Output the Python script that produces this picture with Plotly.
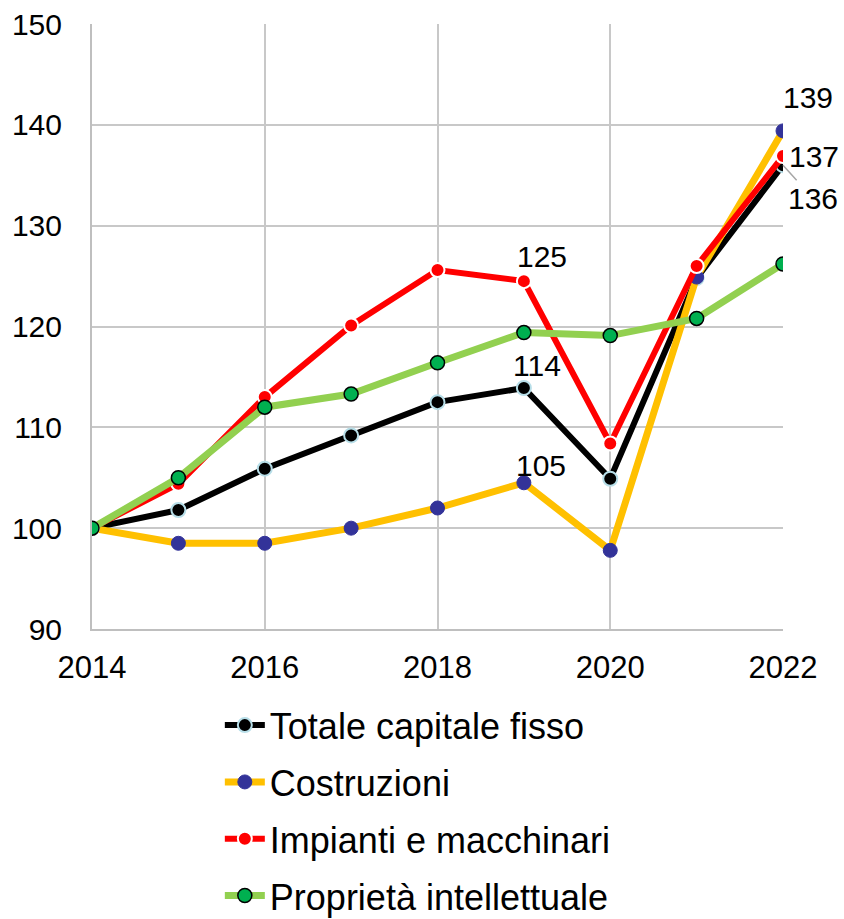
import plotly.graph_objects as go

years = [2014, 2015, 2016, 2017, 2018, 2019, 2020, 2021, 2022]
totale = [100, 101.8, 105.9, 109.2, 112.5, 113.9, 104.9, 124.8, 136.0]
costruzioni = [100, 98.5, 98.5, 100.0, 102.0, 104.5, 97.8, 124.9, 139.4]
impianti = [100, 104.4, 113.0, 120.1, 125.6, 124.5, 108.4, 126.0, 136.9]
proprieta = [100, 105.0, 112.0, 113.3, 116.4, 119.4, 119.1, 120.8, 126.2]

names = ["Totale capitale fisso", "Costruzioni", "Impianti e macchinari", "Proprietà intellettuale"]
x_ticks = [2014, 2016, 2018, 2020, 2022]
y_ticks = [90, 100, 110, 120, 130, 140, 150]

FONT = "Liberation Sans, Arial, sans-serif"

fig = go.Figure()
specs = [
    (totale, names[0], "#000000", 6, "#000000", "#b7dee8", 2),
    (costruzioni, names[1], "#FFC000", 7, "#333399", "#333399", 1),
    (impianti, names[2], "#FF0000", 6, "#FF0000", "#ffffff", 2),
    (proprieta, names[3], "#92D050", 7, "#00B050", "#000000", 1.5),
]
for i, (vals, name, lc, lw, mc, mlc, mlw) in enumerate(specs):
    fig.add_trace(go.Scatter(
        x=years, y=vals, name=name, mode="lines+markers",
        line=dict(color=lc, width=lw),
        marker=dict(color=mc, size=14, line=dict(color=mlc, width=mlw)),
        legendgroup=f"g{i}",
    ))

ann_font = dict(family=FONT, size=30, color="#000000")
labels = [
    (2019, impianti[5], "125", 18, 25),
    (2019, totale[5], "114", 13, 23),
    (2019, costruzioni[5], "105", 17, 17),
    (2022, costruzioni[8], "139", 25, 33),
    (2022, impianti[8], "137", 31, 0),
]
for x, y, t, xs, ys in labels:
    fig.add_annotation(x=x, y=y, text=t, showarrow=False, xshift=xs, yshift=ys,
                       font=ann_font)
fig.add_annotation(x=2022, y=totale[8], text="136", showarrow=True, ax=30, ay=33,
                   arrowhead=0, arrowcolor="#a6a6a6", arrowwidth=1.5, font=ann_font,
                   standoff=0, startstandoff=0)

fig.update_layout(
    width=844, height=919,
    paper_bgcolor="white", plot_bgcolor="white",
    margin=dict(l=92, r=61, t=24, b=290, autoexpand=False),
    font=dict(family=FONT, size=30, color="#000000"),
    showlegend=True,
    legend=dict(
        orientation="v", x=0.185, xanchor="left",
        yref="container", y=0.2435, yanchor="top",
        font=dict(family=FONT, size=36, color="#000000"),
        tracegroupgap=7, itemwidth=40,
        bgcolor="rgba(0,0,0,0)",
    ),
    xaxis=dict(
        range=[2014, 2022], tickvals=x_ticks, ticktext=[str(v) for v in x_ticks],
        showgrid=True, gridcolor="#c8c8c8", gridwidth=2,
        showline=True, linecolor="#bfbfbf", linewidth=2,
        ticks="", tickfont=dict(size=31), zeroline=False,
        ticklabelstandoff=10,
    ),
    yaxis=dict(
        range=[90, 150], tickvals=y_ticks,
        showgrid=True, gridcolor="#c8c8c8", gridwidth=2,
        showline=True, linecolor="#bfbfbf", linewidth=2,
        ticks="", tickfont=dict(size=30), zeroline=False,
        ticklabelstandoff=22,
    ),
)
fig.write_html(
    "out.html",
    config={"displayModeBar": False},
    post_script="document.body.style.margin='0';document.documentElement.style.overflow='hidden';document.body.style.overflow='hidden';",
)
